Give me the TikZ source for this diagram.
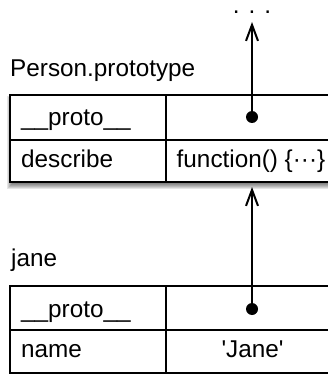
\documentclass[tikz,border=0pt]{standalone}
\usepackage{fontspec}
\setmainfont{Liberation Sans}
\usetikzlibrary{arrows.meta}
\begin{document}
\begin{tikzpicture}[x=1pt,y=-1pt,
  lbl/.style={font=\fontsize{24.3}{28}\selectfont, inner sep=0pt, anchor=base west},
  ctr/.style={font=\fontsize{24.3}{28}\selectfont, inner sep=0pt, anchor=base},
  boxline/.style={line width=2pt},
  ptr/.style={line width=2pt, -{Straight Barb[length=16pt,width=12pt]}},
  dotc/.style={circle, fill=black, draw=none, inner sep=0pt, minimum size=12pt},
  shadowlayer/.style={fill=black, opacity=0.1}]
\useasboundingbox (0,0) rectangle (328,374);
\clip (0,0) rectangle (328,374);

% top object: Person.prototype
\node[lbl] (plabel) at (10,77) {Person.prototype};
\foreach \i in {0,...,5}
  \fill[shadowlayer] (12-\i,101-\i) rectangle (345,184+\i);
\draw[boxline, fill=white] (10,95) rectangle (345,182);
\draw[boxline] (10,140) -- (345,140);
\draw[boxline] (166,95) -- (166,182);
\node[lbl] (pproto) at (21,126) {\_\_proto\_\_};
\node[lbl] (pdesc) at (21,167) {describe};
\node[ctr] (pfunc) at (251,167) {function() \{···\}};
\node[dotc] (pdot) at (252,117) {};
\node[ctr, text height=3pt, text depth=0pt] (more) at (252,13.5) {. . .};
\coordinate (ptip) at (252,22);
\draw[ptr] (pdot.center) -- (ptip);

% bottom object: jane
\node[lbl] (jlabel) at (11,266) {jane};
\draw[boxline, fill=white] (10,286) rectangle (345,373);
\draw[boxline] (10,330) -- (345,330);
\draw[boxline] (166,286) -- (166,373);
\node[lbl] (jproto) at (21,317) {\_\_proto\_\_};
\node[lbl] (jname) at (21,357) {name};
\node[ctr] (jval) at (252.5,357) {\textquotesingle Jane\textquotesingle};
\node[dotc] (jdot) at (252,309) {};
\coordinate (jtip) at (252,187);
\draw[ptr] (jdot.center) -- (jtip);
\end{tikzpicture}
\end{document}
